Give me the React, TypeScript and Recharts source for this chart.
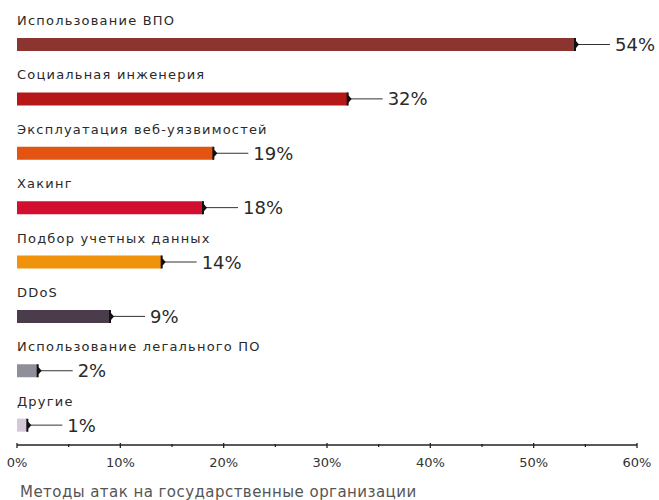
import { Bar, BarChart, Cell, LabelList, XAxis, YAxis } from 'recharts';

const categories = [
  'Использование ВПО',
  'Социальная инженерия',
  'Эксплуатация веб-уязвимостей',
  'Хакинг',
  'Подбор учетных данных',
  'DDoS',
  'Использование легального ПО',
  'Другие',
];
const shares = [54, 32, 19, 18, 14, 9, 2, 1];
const barColors = ['#8c3530', '#b51818', '#e35413', '#d20f2e', '#f0920b', '#4a3c4b', '#8f8f9b', '#d3c9d9'];
const xTicks = [0, 5, 10, 15, 20, 25, 30, 35, 40, 45, 50, 55, 60];
const axisTitle = 'Методы атак на государственные организации';

const rows = categories.map((name, i) => ({ name, value: shares[i] }));

const FONT = '"DejaVu Sans", sans-serif';

const BarLabel = (props: any) => {
  const { x, y, width, height, index, value } = props;
  const end = x + width;
  const cy = y + height / 2;
  return (
    <g>
      <text x={x} y={y - 13} fontFamily={FONT} fontSize={13} letterSpacing={1.2} fill="#2a2a2a">
        {categories[index]}
      </text>
      <line x1={end} x2={end + 35} y1={cy} y2={cy} stroke="#333" strokeWidth={1} />
      <path
        d={`M${end - 1},${y} h2 v${height / 2 - 3.5} l3,3.5 l-3,3.5 v${height / 2 - 3.5} h-2 z`}
        fill="#111"
      />
      <text x={end + 40} y={cy + 6.5} fontFamily={FONT} fontSize={18} fill="#2a2a2a">
        {`${value}%`}
      </text>
    </g>
  );
};

const AxisTick = (props: any) => {
  const { x, y, payload } = props;
  const major = payload.value % 10 === 0;
  return (
    <g>
      <line x1={x} x2={x} y1={y - (major ? 2 : 1)} y2={y + (major ? 3 : 2)} stroke="#222" strokeWidth={1.3} />
      {major && (
        <text x={x} y={y + 21.5} textAnchor="middle" fontFamily={FONT} fontSize={13} fill="#333">
          {`${payload.value}%`}
        </text>
      )}
    </g>
  );
};

export default function App() {
  return (
    <div style={{ position: 'absolute', left: 0, top: 0, width: 659, height: 500, background: '#fff' }}>
      <BarChart
        width={659}
        height={500}
        data={rows}
        layout="vertical"
        margin={{ top: 10, right: 22, bottom: 25, left: 17 }}
      >
        <XAxis
          type="number"
          domain={[0, 60]}
          ticks={xTicks}
          interval={0}
          tickLine={false}
          tickSize={0}
          tickMargin={0}
          axisLine={{ stroke: '#222', strokeWidth: 1.3 }}
          tick={<AxisTick />}
          height={30}
        />
        <YAxis type="category" dataKey="name" hide padding={{ top: 7, bottom: -7 }} />
        <Bar dataKey="value" barSize={13} isAnimationActive={false}>
          {rows.map((r, i) => (
            <Cell key={r.name} fill={barColors[i]} />
          ))}
          <LabelList dataKey="value" content={<BarLabel />} />
        </Bar>
      </BarChart>
      <div
        style={{
          position: 'absolute',
          left: 20,
          top: 483,
          fontFamily: FONT,
          fontSize: 15,
          letterSpacing: 0.45,
          color: '#555',
          whiteSpace: 'nowrap',
        }}
      >
        {axisTitle}
      </div>
    </div>
  );
}
